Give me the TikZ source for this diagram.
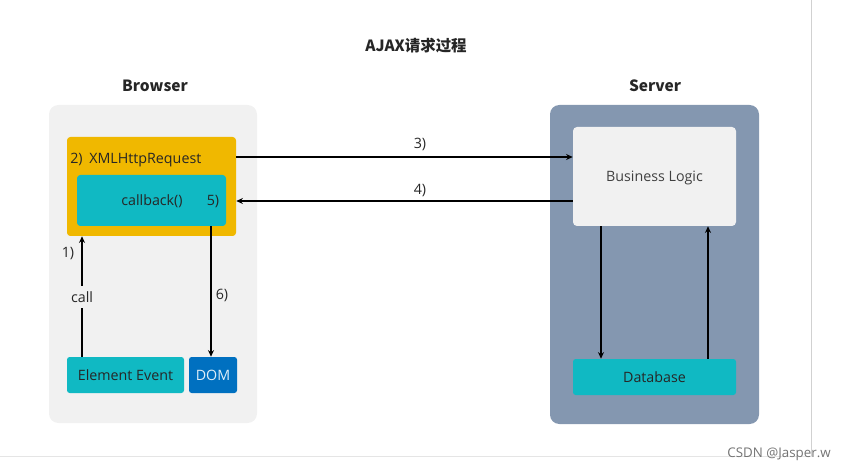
\documentclass[tikz,border=0pt]{standalone}
\usepackage{fontspec}
\setmainfont{Open Sans}
\newfontfamily\cjk{Noto Sans CJK SC}
\usetikzlibrary{arrows.meta}
\definecolor{panelgray}{HTML}{F1F1F1}
\definecolor{servblue}{HTML}{8497B0}
\definecolor{gold}{HTML}{F0B800}
\definecolor{teal2}{HTML}{10B9C3}
\definecolor{domblue}{HTML}{0070C0}
\definecolor{txt}{HTML}{262626}
\tikzset{
  px/.style={x=0.75pt,y=-0.75pt},
  box/.style n args={2}{rectangle,inner sep=0pt,minimum width=#1*0.75pt,minimum height=#2*0.75pt},
  lbl/.style={font=\fontsize{10.7}{12}\selectfont,text=txt,inner sep=0pt,text height=0.9em,text depth=0.1em},
  ttl/.style={font=\cjk\fontsize{11.6}{13}\selectfont\bfseries,text=txt,inner sep=0pt},
  arr/.style={line width=1.4pt,draw=black,-{Stealth[length=5pt,width=4.5pt]}},
}
\begin{document}
\begin{tikzpicture}[px]
\useasboundingbox (0,0) rectangle (846,470);
% page frame lines
\draw[draw=black!18,line width=0.6pt] (811.5,0) coordinate (vt) -- (811.5,456) coordinate (vb);
\draw[draw=black!10,line width=1.3pt] (0,456.5) coordinate (hl) -- (811.5,456.5) coordinate (hr);
% titles
\node[ttl] (title) at (416,46) {AJAX请求过程};
\node[ttl] (tbrowser) at (155,86) {Browser};
\node[ttl] (tserver) at (655,86) {Server};
% panels
\node[box={208}{318},fill=panelgray,rounded corners=7pt] (browser) at (153,264) {};
\node[box={209}{319},fill=servblue,rounded corners=7pt] (server) at (654.5,264.5) {};
% browser contents
\node[box={169}{99},fill=gold,rounded corners=2.5pt] (xhr) at (151.5,186.5) {};
\node[lbl,anchor=west] (xhrt) at (70,158) {2)\hspace{5pt}XMLHttpRequest};
\node[box={149}{51},fill=teal2,rounded corners=2.5pt] (cb) at (151.5,200.5) {};
\node[lbl] (cbt) at (152,200) {callback()};
\node[lbl] (five) at (213,200) {5)};
\node[box={117}{36},fill=teal2,rounded corners=2pt,lbl] (ee) at (125.5,375) {Element Event};
\node[box={48}{36},fill=domblue,rounded corners=2pt,lbl,text=white!88!domblue] (dom) at (213,375) {DOM};
% server contents
\node[box={163}{99},fill=panelgray,rounded corners=3pt,lbl,text=black!75] (bl) at (654.5,176.5) {Business Logic};
\node[box={163}{36},fill=teal2,rounded corners=2pt,lbl] (db) at (654.5,377) {Database};
% connectors
\draw[arr] (ee.north -| 82,0) -- (xhr.south -| 82,0);
\node[lbl,fill=panelgray,inner sep=3pt] (call) at (82,297) {call};
\node[lbl] (one) at (68,252) {1)};
\draw[arr] (cb.south -| 211,0) -- (dom.north -| 211,0);
\node[lbl] (six) at (222,294) {6)};
\draw[arr] (xhr.east |- 0,157) -- (bl.west |- 0,157);
\node[lbl] (three) at (420,143) {3)};
\draw[arr] (bl.west |- 0,201) -- (xhr.east |- 0,201);
\node[lbl] (four) at (420,189) {4)};
\draw[arr] (bl.south -| 601,0) -- (db.north -| 601,0);
\draw[arr] (db.north -| 708,0) -- (bl.south -| 708,0);
% watermark
\node[font=\fontsize{10}{11}\selectfont,text=black!55,inner sep=0pt,anchor=east] (wm) at (831,454) {CSDN @Jasper.w};
\end{tikzpicture}
\end{document}
